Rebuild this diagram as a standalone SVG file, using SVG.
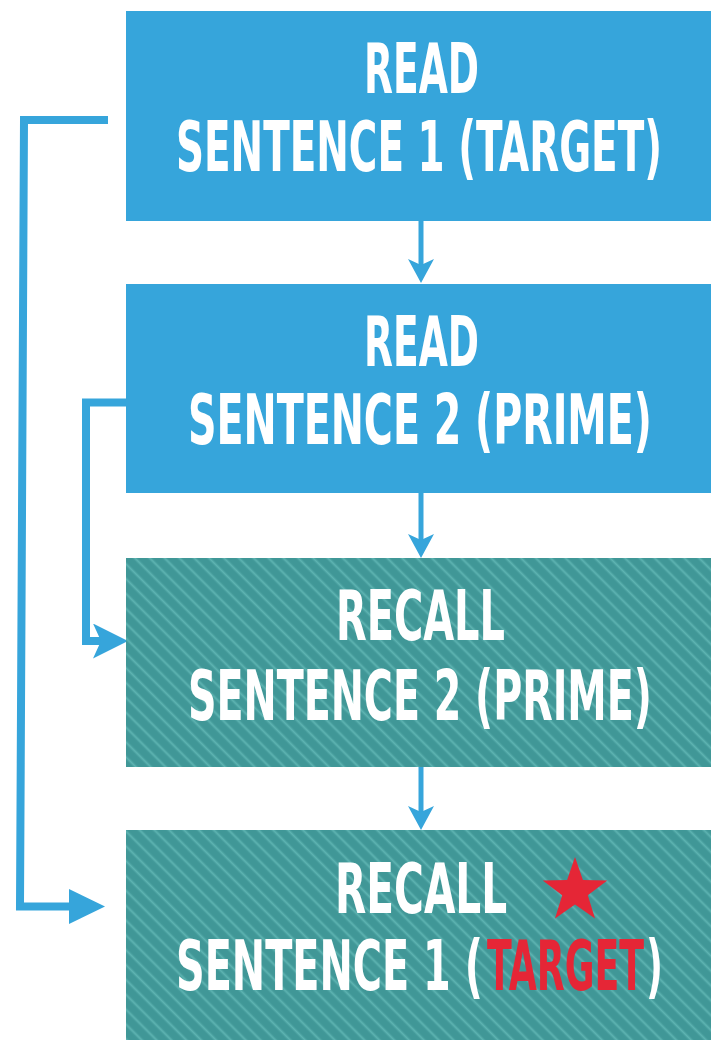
<svg xmlns="http://www.w3.org/2000/svg" width="711" height="1040" viewBox="0 0 711 1040">
  <style>
    .read { fill: #36A5DB; }
    .recall { fill: url(#stripes); }
    .label { font-family: "DejaVu Sans Condensed", "DejaVu Sans", sans-serif; font-stretch: condensed; font-weight: bold; font-size: 70px; fill: #FFFFFF; }
    .accent { fill: #E52636; }
    .wire { fill: none; stroke: #36A5DB; stroke-linejoin: miter; stroke-linecap: butt; }
    .thin { stroke-width: 5; }
    .thick { stroke-width: 8; }
  </style>
  <defs>
    <!-- soft-edged diagonal stripe used on the recall steps -->
    <linearGradient id="stripeShade" x1="0" y1="0" x2="1" y2="0">
      <stop offset="0" stop-color="#409797"/>
      <stop offset="0.3" stop-color="#409797"/>
      <stop offset="0.5" stop-color="#5DB3B1"/>
      <stop offset="0.7" stop-color="#409797"/>
      <stop offset="1" stop-color="#409797"/>
    </linearGradient>
    <pattern id="stripes" patternUnits="userSpaceOnUse" width="10.5" height="10" patternTransform="rotate(-45)">
      <rect width="10.5" height="10" fill="url(#stripeShade)"/>
    </pattern>
    <marker id="headSmall" markerUnits="userSpaceOnUse" viewBox="0 0 24 26" markerWidth="24" markerHeight="26" refX="6" refY="13" orient="auto">
      <path d="M0,0 L24,13 L0,26 L6,13 Z" fill="#36A5DB"/>
    </marker>
    <marker id="headNotch" markerUnits="userSpaceOnUse" viewBox="0 0 35 35" markerWidth="35" markerHeight="35" refX="8" refY="17.5" orient="auto">
      <path d="M0,0 L35,17.5 L0,35 L8,17.5 Z" fill="#36A5DB"/>
    </marker>
    <marker id="headFlat" markerUnits="userSpaceOnUse" viewBox="0 0 36 35" markerWidth="36" markerHeight="35" refX="1" refY="17.5" orient="auto">
      <path d="M0,0 L36,17.5 L0,35 Z" fill="#36A5DB"/>
    </marker>
  </defs>

  <rect width="711" height="1040" fill="#FFFFFF"/>

  <g id="connectors">
    <line class="wire thin" x1="421" y1="221" x2="421" y2="265" marker-end="url(#headSmall)"/>
    <line class="wire thin" x1="421" y1="493" x2="421" y2="540" marker-end="url(#headSmall)"/>
    <line class="wire thin" x1="421" y1="767" x2="421" y2="812" marker-end="url(#headSmall)"/>
    <path class="wire thick" d="M130,402.5 L86,402.5 L86,641 L101,641" marker-end="url(#headNotch)"/>
    <path class="wire thick" d="M108,120 L24,120 L20,906.5 L70,906.5" marker-end="url(#headFlat)"/>
  </g>

  <!-- labels are narrowed with a horizontal scale to a condensed display face -->
  <g id="read-target">
    <rect class="read" x="126" y="11" width="585" height="210"/>
    <text class="label" transform="translate(364,93) scale(0.602,1)" textLength="191" lengthAdjust="spacingAndGlyphs">READ</text>
    <text class="label" transform="translate(176,171) scale(0.616,1)" textLength="789" lengthAdjust="spacingAndGlyphs">SENTENCE 1 (TARGET)</text>
  </g>

  <g id="read-prime">
    <rect class="read" x="126" y="284" width="585" height="209"/>
    <text class="label" transform="translate(364,366) scale(0.602,1)" textLength="191" lengthAdjust="spacingAndGlyphs">READ</text>
    <text class="label" transform="translate(188,444) scale(0.632,1)" textLength="734" lengthAdjust="spacingAndGlyphs">SENTENCE 2 (PRIME)</text>
  </g>

  <g id="recall-prime">
    <rect class="recall" x="126" y="558" width="585" height="209"/>
    <text class="label" transform="translate(336,640) scale(0.640,1)" textLength="264" lengthAdjust="spacingAndGlyphs">RECALL</text>
    <text class="label" transform="translate(188,720) scale(0.632,1)" textLength="734" lengthAdjust="spacingAndGlyphs">SENTENCE 2 (PRIME)</text>
  </g>

  <g id="recall-target">
    <rect class="recall" x="126" y="830" width="585" height="210"/>
    <text class="label" transform="translate(335,913) scale(0.652,1)" textLength="264" lengthAdjust="spacingAndGlyphs">RECALL</text>
    <path class="accent" d="M575,857 L582.9,880.1 L607.3,880.5 L587.8,895.2 L595,918.5 L575,904.4 L555,918.5 L562.2,895.2 L542.7,880.5 L567.1,880.1 Z"/>
    <text class="label" transform="translate(176,990) scale(0.634,1)" textLength="484" lengthAdjust="spacingAndGlyphs">SENTENCE 1 (</text>
    <text class="label accent" transform="translate(487,990) scale(0.568,1)" textLength="276.5" lengthAdjust="spacingAndGlyphs">TARGET</text>
    <text class="label" transform="translate(646,990) scale(0.592,1)" textLength="28.7" lengthAdjust="spacingAndGlyphs">)</text>
  </g>
</svg>
